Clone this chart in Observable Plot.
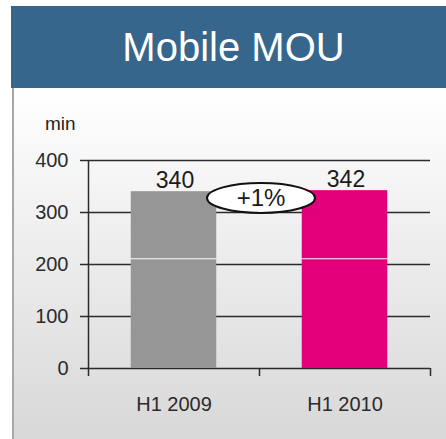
<!DOCTYPE html>
<html>
<head>
<meta charset="utf-8">
<script src="https://cdn.jsdelivr.net/npm/d3@7"></script>
<script src="https://cdn.jsdelivr.net/npm/@observablehq/plot@0.6"></script>
<style>
  html, body { margin: 0; padding: 0; background: #fff; }
  #frame { position: relative; width: 446px; height: 439px; overflow: hidden; font-family: "Liberation Sans", Arial, sans-serif; }
  #title { position: absolute; left: 11px; top: 6px; width: 435px; height: 82px; box-sizing: border-box; padding-left: 10px;
           background: #36668c; color: #fff; font-size: 40px; display: flex; align-items: center; justify-content: center; }
  #panel { position: absolute; left: 12px; top: 88px; width: 434px; height: 351px; box-sizing: border-box;
           background: linear-gradient(#ffffff, #d8d8d8); border-left: 2px solid #a8a8a8; }
  #unit { position: absolute; left: 45px; top: 113px; font-size: 19px; color: #222; }
  #chart { position: absolute; left: 0; top: 0; }
</style>
</head>
<body>
<div id="frame">
  <div id="title">Mobile MOU</div>
  <div id="panel"></div>
  <div id="unit">min</div>
  <div id="chart"></div>
</div>
<script>
// Mobile minutes of use per half-year
const periods = ["H1 2009", "H1 2010"];
const minutes = [340, 342];
const barColors = ["#969696", "#e2007a"];
const yTicks = [0, 100, 200, 300, 400];
const changeLabel = "+1%";
const changeLevel = 327;   // height of the growth badge, in minutes
const seamLevel = 211;     // thin white seam across the bars

const rows = periods.map((period, i) => ({ period, i, value: minutes[i], color: barColors[i] }));
const ink = "#2b2b2b";

// growth badge: white ellipse with the change label, between the two bars
const badge = (index, { x, y }) => {
  const g = d3.create("svg:g");
  const cx = x(1) + 2, cy = y(changeLevel);
  g.append("ellipse")
    .attr("cx", cx).attr("cy", cy).attr("rx", 54).attr("ry", 15)
    .attr("fill", "#fff").attr("stroke", "#111").attr("stroke-width", 2);
  g.append("text")
    .attr("x", cx).attr("y", cy).attr("dy", "0.35em")
    .attr("text-anchor", "middle").attr("font-size", 24).attr("fill", "#1a1a1a")
    .text(changeLabel);
  return g.node();
};

const chart = Plot.plot({
  width: 446,
  height: 439,
  marginLeft: 88,
  marginRight: 16,
  marginTop: 160,
  marginBottom: 71,
  style: { background: "transparent", fontFamily: "Liberation Sans, Arial, sans-serif", color: ink },
  x: { domain: [0, periods.length] },
  y: { domain: [0, 400] },
  color: { type: "identity" },
  marks: [
    Plot.ruleY(yTicks, { x1: 0, x2: periods.length, stroke: ink, strokeWidth: 1.5 }),
    Plot.ruleX([0], { y1: 0, y2: 400, stroke: ink, strokeWidth: 1.5 }),
    Plot.axisX({ ticks: d3.range(periods.length + 1), tickSize: 8, tickFormat: () => "", stroke: ink, strokeWidth: 1.5 }),
    Plot.axisX({ ticks: periods.map((_, i) => i + 0.5), tickSize: 0, tickPadding: 28,
                 tickFormat: t => periods[Math.floor(t)], fontSize: 20, color: ink }),
    Plot.axisY({ ticks: yTicks, tickSize: 8, tickPadding: 12, fontSize: 20, label: null, color: ink, strokeWidth: 1.5 }),
    Plot.rectY(rows, { x1: d => d.i + 0.25, x2: d => d.i + 0.75, y: "value", fill: "color" }),
    Plot.ruleY(rows, { x1: d => d.i + 0.25, x2: d => d.i + 0.75, y: () => seamLevel, stroke: "#fff", strokeWidth: 1 }),
    Plot.text(rows, { x: d => d.i + 0.5, y: "value", text: d => String(d.value), fontSize: 23,
                      lineAnchor: "bottom", dx: 1, dy: -4, fill: "#1a1a1a" }),
    badge
  ]
});
document.getElementById("chart").appendChild(chart);
</script>
</body>
</html>
